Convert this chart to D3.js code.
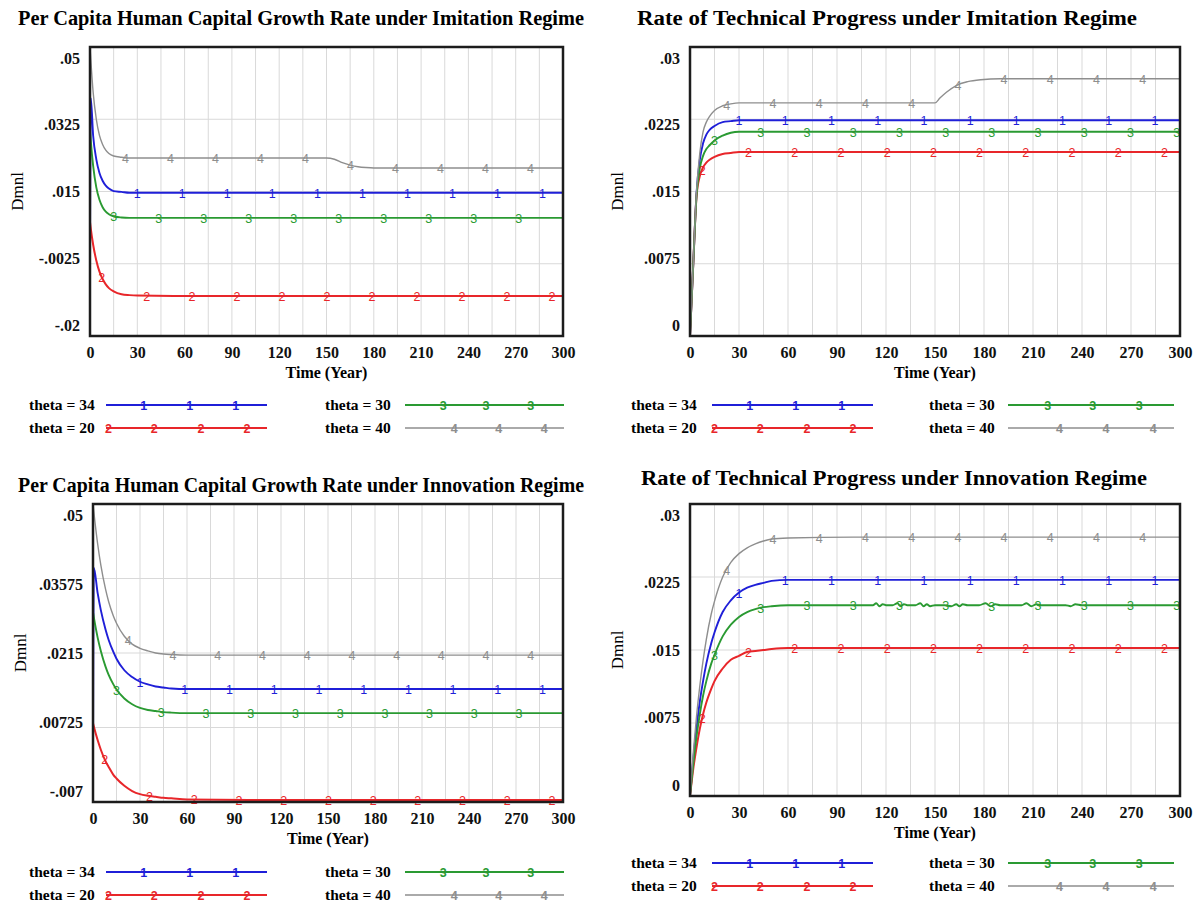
<!DOCTYPE html>
<html>
<head>
<meta charset="utf-8">
<script src="https://cdn.jsdelivr.net/npm/d3@7"></script>
<style>
  body { margin: 0; background: #fff; }
  svg { display: block; }
  .serif { font-family: "Liberation Serif", "Times New Roman", Times, serif; }
  .sans { font-family: "Liberation Sans", Arial, sans-serif; }
</style>
</head>
<body>
<svg id="chart" width="1201" height="903"></svg>
<script>
// ---------- shared labels ----------
const seriesNames = ["theta = 34", "theta = 20", "theta = 30", "theta = 40"];
const seriesMarks = ["1", "2", "3", "4"];
const seriesColors = ["#1f1fd8", "#e8262a", "#2a9a32", "#8e8e8e"];
const xTickValues = [0, 30, 60, 90, 120, 150, 180, 210, 240, 270, 300];

// ---------- per capita human capital growth rate, imitation regime ----------
const hcImitTime    = [0, 0.5, 2, 4, 6, 8, 10, 12, 15, 20, 25, 30, 60, 100, 150, 155, 160, 165, 170, 175, 180, 200, 250, 300];
const hcImitTheta34 = [0, .0376, .0285, .0228, .0195, .0176, .0164, .0157, .0151, .0149, .0147, .0147, .0147, .0147, .0147, .0147, .0147, .0147, .0147, .0147, .0147, .0147, .0147, .0147];
const hcImitTheta20 = [.0076, .0060, .0021, -.0017, -.0044, -.0062, -.0075, -.0084, -.0092, -.0099, -.0101, -.0102, -.0103, -.0103, -.0103, -.0103, -.0103, -.0103, -.0103, -.0103, -.0103, -.0103, -.0103, -.0103];
const hcImitTheta30 = [.0299, .0273, .0212, .0160, .0130, .0112, .0101, .0095, .0090, .0087, .0086, .0086, .0086, .0086, .0086, .0086, .0086, .0086, .0086, .0086, .0086, .0086, .0086, .0086];
const hcImitTheta40 = [.0500, .0470, .0390, .0325, .0286, .0264, .0250, .0242, .0236, .0233, .0231, .0231, .0231, .0231, .0231, .0228, .0220, .0214, .0210, .0208, .0207, .0207, .0207, .0207];
const hcImitYTicks  = [.05, .0325, .015, -.0025, -.02];
const hcImitYLabels = [".05", ".0325", ".015", "-.0025", "-.02"];

// ---------- rate of technical progress, imitation regime ----------
const techImitTime    = [0, 2, 4, 6, 8, 10, 12, 15, 20, 25, 30, 60, 100, 150, 153, 157, 163, 170, 178, 190, 250, 300];
const techImitTheta34 = [0, .0075, .0148, .0183, .0200, .0209, .0214, .0218, .0222, .0223, .0224, .0224, .0224, .0224, .0224, .0224, .0224, .0224, .0224, .0224, .0224, .0224];
const techImitTheta20 = [0, .0075, .0145, .0166, .0175, .0180, .0183, .0186, .0189, .0190, .0191, .0191, .0191, .0191, .0191, .0191, .0191, .0191, .0191, .0191, .0191, .0191];
const techImitTheta30 = [0, .0075, .0146, .0174, .0187, .0194, .0198, .0203, .0208, .0211, .0212, .0212, .0212, .0212, .0212, .0212, .0212, .0212, .0212, .0212, .0212, .0212];
const techImitTheta40 = [0, .0075, .0150, .0190, .0212, .0222, .0228, .0234, .0239, .0241, .0242, .0242, .0242, .0242, .0247, .0253, .0260, .0264, .0266, .0267, .0267, .0267];
const techYTicks  = [.03, .0225, .015, .0075, 0];
const techYLabels = [".03", ".0225", ".015", ".0075", "0"];

// ---------- per capita human capital growth rate, innovation regime ----------
const hcInnovTime    = [0, 0.5, 3, 5, 8, 10, 13, 15, 20, 25, 30, 35, 40, 45, 50, 60, 100, 200, 300];
const hcInnovTheta34 = [0, .0378, .0329, .0297, .0260, .0240, .0217, .0204, .0182, .0169, .0160, .0155, .0151, .0149, .0147, .0146, .0146, .0146, .0146];
const hcInnovTheta20 = [.0081, .0075, .0048, .0030, .0008, -.0003, -.0018, -.0025, -.0039, -.0049, -.0055, -.0058, -.0060, -.0062, -.0063, -.0065, -.0066, -.0066, -.0066];
const hcInnovTheta30 = [.0293, .0284, .0244, .0219, .0189, .0173, .0155, .0145, .0128, .0117, .0110, .0106, .0104, .0102, .0101, .0100, .0100, .0100, .0100];
const hcInnovTheta40 = [.0500, .0486, .0423, .0383, .0337, .0313, .0286, .0272, .0247, .0232, .0224, .0219, .0215, .0213, .0212, .0211, .0211, .0211, .0211];
const hcInnovYTicks  = [.05, .03575, .0215, .00725, -.007];
const hcInnovYLabels = [".05", ".03575", ".0215", ".00725", "-.007"];

// ---------- rate of technical progress, innovation regime ----------
const techInnovTime    = [0, 2, 4, 6, 8, 10, 13, 15, 20, 25, 30, 35, 40, 45, 50, 60, 100, 200, 300];
const techInnovTheta34 = [0, .0038, .0070, .0097, .0118, .0136, .0157, .0168, .0189, .0201, .0209, .0214, .0217, .0219, .0221, .0222, .0222, .0222, .0222];
const techInnovTheta20 = [0, .0028, .0050, .0069, .0084, .0096, .0110, .0118, .0131, .0140, .0144, .0148, .0149, .0150, .0151, .0152, .0152, .0152, .0152];
const techInnovTheta40 = [0, .0044, .0082, .0113, .0139, .0161, .0187, .0200, .0225, .0240, .0249, .0255, .0259, .0262, .0264, .0265, .0266, .0266, .0266];
// theta = 30 shows a small ripple in the middle of the run
const techInnovTheta30Time = [0, 2, 4, 6, 8, 10, 13, 15, 20, 25, 30, 35, 40, 45, 50, 60, 100, 112, 114, 116, 118, 120, 124, 127, 129, 131, 133, 138, 141, 143, 145, 147, 150, 156, 160, 163, 165, 167, 170, 177, 181, 184, 187, 190, 195, 203, 206, 209, 212, 215, 230, 233, 236, 240, 300];
const techInnovTheta30     = [0, .0033, .0061, .0084, .0103, .0118, .0136, .0145, .0164, .0176, .0184, .0189, .0192, .0194, .0195, .0196, .0196, .0196, .0198, .0195, .0197, .0196, .0196, .0198, .0195, .0197, .0196, .0196, .0198, .0195, .0197, .0195, .0196, .0196, .0195, .0197, .0195, .0197, .0196, .0196, .0198, .0195, .0197, .0196, .0196, .0196, .0198, .0195, .0197, .0196, .0196, .0195, .0197, .0196, .0196];

// ---------- panel layout ----------
const panels = [
  {
    title: "Per Capita Human Capital Growth Rate under Imitation Regime",
    titleX: 301, titleY: 25, titleLen: 566,
    box: { left: 90, top: 47, right: 563, bottom: 336 },
    yDomain: [-0.02, 0.05], yTicks: hcImitYTicks, yLabels: hcImitYLabels,
    series: [[hcImitTime, hcImitTheta34], [hcImitTime, hcImitTheta20], [hcImitTime, hcImitTheta30], [hcImitTime, hcImitTheta40]],
    markStep: 28.55,
    legend: { x1: 29, line1: [106, 267], x2: 325, line2: [405, 564], rows: [405, 428] }
  },
  {
    title: "Rate of Technical Progress under Imitation Regime",
    titleX: 887, titleY: 25, titleLen: 500,
    box: { left: 690, top: 47, right: 1180, bottom: 336 },
    yDomain: [0, 0.03], yTicks: techYTicks, yLabels: techYLabels,
    series: [[techImitTime, techImitTheta34], [techImitTime, techImitTheta20], [techImitTime, techImitTheta30], [techImitTime, techImitTheta40]],
    markStep: 28.3,
    legend: { x1: 631, line1: [712, 873], x2: 929, line2: [1008, 1174], rows: [405, 428] }
  },
  {
    title: "Per Capita Human Capital Growth Rate under Innovation Regime",
    titleX: 301, titleY: 492, titleLen: 566,
    box: { left: 93, top: 504, right: 563, bottom: 802 },
    yDomain: [-0.007, 0.05], yTicks: hcInnovYTicks, yLabels: hcInnovYLabels,
    series: [[hcInnovTime, hcInnovTheta34], [hcInnovTime, hcInnovTheta20], [hcInnovTime, hcInnovTheta30], [hcInnovTime, hcInnovTheta40]],
    markStep: 28.55,
    legend: { x1: 29, line1: [106, 267], x2: 325, line2: [405, 564], rows: [872, 895] }
  },
  {
    title: "Rate of Technical Progress under Innovation Regime",
    titleX: 894, titleY: 485, titleLen: 506,
    box: { left: 690, top: 504, right: 1180, bottom: 796 },
    yDomain: [0, 0.03], yTicks: techYTicks, yLabels: techYLabels,
    series: [[techInnovTime, techInnovTheta34], [techInnovTime, techInnovTheta20], [techInnovTheta30Time, techInnovTheta30], [techInnovTime, techInnovTheta40]],
    markStep: 28.3,
    legend: { x1: 631, line1: [712, 873], x2: 929, line2: [1008, 1174], rows: [863, 886] }
  }
];

// where the first numbered marker sits on each series (years) and legend marker spots (fraction of line)
const markStart = [30, 7.5, 15, 22.5];
const legendMarkFrac = [[.235, .52, .805], [.015, .30, .59, .875], [.24, .51, .79], [.31, .59, .875]];
const seriesWidths = [1.9, 2, 1.9, 1.4];

const svg = d3.select("#chart");

function valueAt(times, values, t) {
  const i = Math.min(Math.max(d3.bisectRight(times, t), 1), times.length - 1);
  const t0 = times[i - 1], t1 = times[i];
  const f = t1 === t0 ? 0 : (t - t0) / (t1 - t0);
  return values[i - 1] + f * (values[i] - values[i - 1]);
}

panels.forEach((p, pi) => {
  const g = svg.append("g");
  const b = p.box, h = b.bottom - b.top;
  const x = d3.scaleLinear().domain([0, 300]).range([b.left, b.right]);
  const y = d3.scaleLinear().domain(p.yDomain).range([b.bottom, b.top]);

  // title
  g.append("text").attr("class", "serif")
    .attr("x", p.titleX).attr("y", p.titleY)
    .attr("text-anchor", "middle")
    .attr("textLength", p.titleLen).attr("lengthAdjust", "spacingAndGlyphs")
    .style("font-size", "20.5px").style("font-weight", "bold")
    .text(p.title);

  // grid
  const grid = g.append("g").attr("stroke", "#d9d9d9").attr("stroke-width", 1);
  grid.selectAll("line.v").data(d3.range(15, 300, 15)).join("line")
    .attr("x1", d => x(d)).attr("x2", d => x(d))
    .attr("y1", b.top).attr("y2", b.bottom);
  grid.selectAll("line.h").data(p.yTicks.slice(1, -1)).join("line")
    .attr("x1", b.left).attr("x2", b.right)
    .attr("y1", d => y(d)).attr("y2", d => y(d));

  // series lines
  const line = d3.line().curve(d3.curveMonotoneX).x(d => x(d[0])).y(d => y(d[1]));
  p.series.forEach(([times, values], si) => {
    const pts = times.map((t, k) => [t, values[k]]);
    g.append("path").attr("d", line(pts))
      .attr("fill", "none").attr("stroke", seriesColors[si])
      .attr("stroke-width", seriesWidths[si]).attr("stroke-linejoin", "round");
  });

  // numbered markers along each series
  p.series.forEach(([times, values], si) => {
    const marks = [];
    for (let t = markStart[si]; t < 299.5; t += p.markStep) marks.push(t);
    g.selectAll(null).data(marks).join("text")
      .attr("class", "sans")
      .attr("x", t => x(t)).attr("y", t => y(valueAt(times, values, t)))
      .attr("dy", "0.4em").attr("text-anchor", "middle")
      .style("font-size", "12.5px").attr("fill", seriesColors[si])
      .text(seriesMarks[si]);
  });

  // frame
  g.append("rect").attr("x", b.left).attr("y", b.top)
    .attr("width", b.right - b.left).attr("height", h)
    .attr("fill", "none").attr("stroke", "#1c1c1c").attr("stroke-width", 2.5);

  // x axis
  const xAxis = g.append("g").attr("transform", `translate(0,${b.bottom})`)
    .call(d3.axisBottom(x).tickValues(xTickValues).tickSize(0).tickPadding(11).tickFormat(d3.format("d")));
  xAxis.select(".domain").remove();
  xAxis.selectAll("text").attr("class", "serif").attr("fill", "#111")
    .style("font-size", "16px").style("font-weight", "bold").attr("font-family", null);

  // y axis: labels spread evenly between the frame edges
  const labelMap = new Map(p.yTicks.map((v, k) => [v, p.yLabels[k]]));
  const yAxis = g.append("g").attr("transform", `translate(${b.left},0)`)
    .call(d3.axisLeft(y).tickValues(p.yTicks).tickSize(0).tickPadding(10).tickFormat(v => labelMap.get(v)));
  yAxis.select(".domain").remove();
  const mid = (b.top + b.bottom) / 2;
  yAxis.selectAll("text").attr("class", "serif").attr("fill", "#111")
    .style("font-size", "16px").style("font-weight", "bold").attr("font-family", null)
    .attr("transform", v => `translate(0,${(mid - y(v)) * 22 / h})`);

  // axis titles
  g.append("text").attr("class", "serif")
    .attr("x", (b.left + b.right) / 2).attr("y", b.bottom + 42)
    .attr("text-anchor", "middle")
    .style("font-size", "16px").style("font-weight", "bold")
    .text("Time (Year)");
  const yLabX = b.left - 73;
  g.append("text").attr("class", "serif")
    .attr("transform", `translate(${yLabX},${mid}) rotate(-90)`)
    .attr("text-anchor", "middle").attr("dy", "0.35em")
    .style("font-size", "17px")
    .text("Dmnl");

  // legend
  const L = p.legend;
  const spots = [
    { tx: L.x1, ln: L.line1, row: 0 },
    { tx: L.x1, ln: L.line1, row: 1 },
    { tx: L.x2, ln: L.line2, row: 0 },
    { tx: L.x2, ln: L.line2, row: 1 }
  ];
  spots.forEach((s, si) => {
    const yy = L.rows[s.row];
    g.append("text").attr("class", "serif")
      .attr("x", s.tx).attr("y", yy).attr("dy", "0.35em")
      .style("font-size", "15.5px").style("font-weight", "bold")
      .text(seriesNames[si]);
    g.append("line").attr("x1", s.ln[0]).attr("x2", s.ln[1])
      .attr("y1", yy).attr("y2", yy)
      .attr("stroke", seriesColors[si]).attr("stroke-width", seriesWidths[si]);
    g.selectAll(null).data(legendMarkFrac[si]).join("text")
      .attr("class", "sans")
      .attr("x", f => s.ln[0] + f * (s.ln[1] - s.ln[0])).attr("y", yy)
      .attr("dy", "0.4em").attr("text-anchor", "middle")
      .style("font-size", "12.5px").style("font-weight", "bold")
      .attr("fill", seriesColors[si])
      .text(seriesMarks[si]);
  });
});
</script>
</body>
</html>
